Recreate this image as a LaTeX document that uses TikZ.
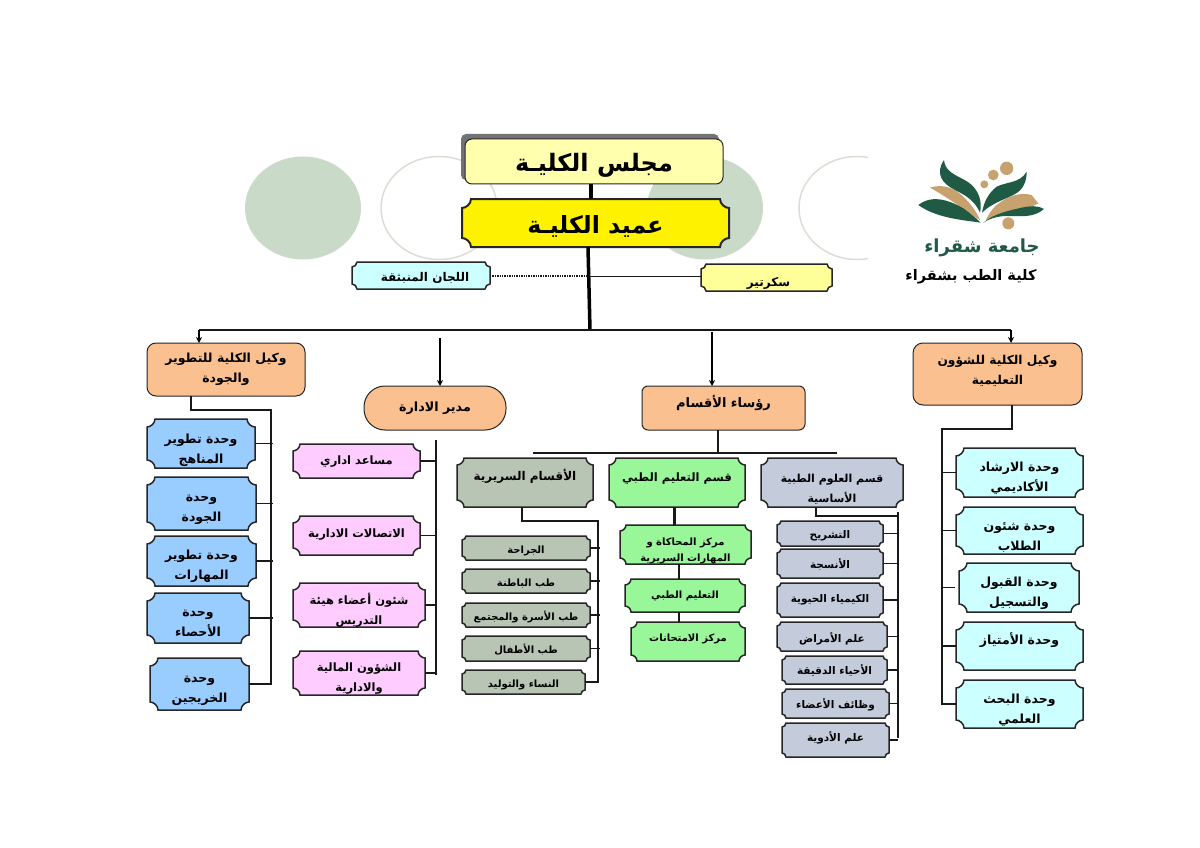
\documentclass[tikz,border=0pt]{standalone}
\usepackage{fontspec}
\setmainfont{Liberation Sans}
\newfontfamily\arf[Script=Arabic]{DejaVu Sans}
\TeXXeTstate=1
\usetikzlibrary{arrows.meta}
\definecolor{orangeb}{HTML}{FAC090}
\definecolor{blueb}{HTML}{99CCFF}
\definecolor{pinkb}{HTML}{FFCCFF}
\definecolor{grayb}{HTML}{B8C4B4}
\definecolor{greenb}{HTML}{99F799}
\definecolor{steelb}{HTML}{C4CCDC}
\definecolor{cyanb}{HTML}{CCFFFF}
\definecolor{paleY}{HTML}{FFFF99}
\definecolor{circG}{HTML}{CADAC8}
\definecolor{circL}{HTML}{D9DFD5}
\definecolor{logoG}{HTML}{1E5A44}
\definecolor{logoT}{HTML}{C8A26E}
\newdimen\plqL \newdimen\plqR \newdimen\plqT \newdimen\plqB \newdimen\plqr \newdimen\plqc
\makeatletter
\pgfdeclareshape{plaque}{
  \inheritsavedanchors[from=rectangle]
  \inheritanchorborder[from=rectangle]
  \inheritanchor[from=rectangle]{center}
  \inheritanchor[from=rectangle]{north}
  \inheritanchor[from=rectangle]{south}
  \inheritanchor[from=rectangle]{east}
  \inheritanchor[from=rectangle]{west}
  \inheritanchor[from=rectangle]{base}
  \inheritanchor[from=rectangle]{mid}
  \backgroundpath{
    \southwest \plqL=\pgf@x \plqB=\pgf@y
    \northeast \plqR=\pgf@x \plqT=\pgf@y
    \pgfmathsetlength\plqr{\pgfkeysvalueof{/tikz/plaque r}}
    \plqc=0.45\plqr
    \pgfpathmoveto{\pgfpoint{\dimexpr\plqL+\plqr\relax}{\plqT}}
    \pgfpathlineto{\pgfpoint{\dimexpr\plqR-\plqr\relax}{\plqT}}
    \pgfpathcurveto{\pgfpoint{\dimexpr\plqR-\plqr\relax}{\dimexpr\plqT-\plqr+\plqc\relax}}{\pgfpoint{\dimexpr\plqR-\plqc\relax}{\dimexpr\plqT-\plqr\relax}}{\pgfpoint{\plqR}{\dimexpr\plqT-\plqr\relax}}
    \pgfpathlineto{\pgfpoint{\plqR}{\dimexpr\plqB+\plqr\relax}}
    \pgfpathcurveto{\pgfpoint{\dimexpr\plqR-\plqc\relax}{\dimexpr\plqB+\plqr\relax}}{\pgfpoint{\dimexpr\plqR-\plqr\relax}{\dimexpr\plqB+\plqr-\plqc\relax}}{\pgfpoint{\dimexpr\plqR-\plqr\relax}{\plqB}}
    \pgfpathlineto{\pgfpoint{\dimexpr\plqL+\plqr\relax}{\plqB}}
    \pgfpathcurveto{\pgfpoint{\dimexpr\plqL+\plqr\relax}{\dimexpr\plqB+\plqr-\plqc\relax}}{\pgfpoint{\dimexpr\plqL+\plqc\relax}{\dimexpr\plqB+\plqr\relax}}{\pgfpoint{\plqL}{\dimexpr\plqB+\plqr\relax}}
    \pgfpathlineto{\pgfpoint{\plqL}{\dimexpr\plqT-\plqr\relax}}
    \pgfpathcurveto{\pgfpoint{\dimexpr\plqL+\plqc\relax}{\dimexpr\plqT-\plqr\relax}}{\pgfpoint{\dimexpr\plqL+\plqr\relax}{\dimexpr\plqT-\plqr+\plqc\relax}}{\pgfpoint{\dimexpr\plqL+\plqr\relax}{\plqT}}
    \pgfpathclose
  }
}
\makeatother
\newcommand\AR[1]{\beginR #1\endR}
\newcommand\TS[2]{\raisebox{-#1pt}[\height][\depth]{\begin{tabular}{@{}c@{}}#2\end{tabular}}}
\newcommand\bx[7][]{\node[#2,#1,minimum width={(#5-#3)*1pt},minimum height={(#6-#4)*1pt}] (#7) at ({(#3+#5)/2},{(#4+#6)/2})}
\tikzset{
  plaque r/.initial=6pt,
  boxbase/.style={draw=black!85,line width=1.5pt,inner sep=0pt,outer sep=0pt,text=black},
  tx/.style={font=\arf\bfseries\fontsize{#1}{20}\selectfont},
  pl/.style={boxbase,shape=plaque},
  rr/.style={boxbase,shape=rectangle,rounded corners=#1,line width=1pt},
  thin link/.style={line width=1pt,draw=black!90},
  mid link/.style={line width=1.8pt,draw=black!90},
  thick link/.style={line width=3.5pt,draw=black},
  arrowed/.style={-{Stealth[length=6pt,width=6pt]},line width=1.5pt},
  blueunit/.style={pl,fill=blueb,tx=12.5,plaque r=8pt},
  pinkunit/.style={pl,fill=pinkb,tx=11.5,plaque r=7pt},
  clinsub/.style={pl,fill=grayb,tx=10,plaque r=4pt},
  clinhead/.style={pl,fill=grayb,tx=12,plaque r=7pt},
  edhead/.style={pl,fill=greenb,tx=11.5,plaque r=7pt},
  edsub/.style={pl,fill=greenb,tx=10,plaque r=6pt},
  baschead/.style={pl,fill=steelb,tx=11,plaque r=7pt},
  bassub/.style={pl,fill=steelb,tx=10.5,plaque r=4pt},
  cyanunit/.style={pl,fill=cyanb,tx=12.5,plaque r=8pt},
  orangebox/.style={rr=#1,fill=orangeb,tx=12.5},
  disc/.style={fill=circG,draw=none},
  ring/.style={fill=white,draw=circL,line width=1.5pt},
}
\begin{document}
\begin{tikzpicture}[x=1pt,y=-1pt]
\fill[white] (0,0) rectangle (1200,848);
\useasboundingbox (0,0) rectangle (1200,848);
% circles
\fill[disc] (303,208) ellipse [x radius=58,y radius=51.5];
\draw[ring] (439,208) ellipse [x radius=58,y radius=51.5];
\fill[disc] (705,208) ellipse [x radius=58,y radius=51.5];
\draw[ring] (857,208) ellipse [x radius=58,y radius=51.5];
\fill[white] (868,150) rectangle (930,270);
% logo
\begin{scope}[shift={(880,140)},x=0.3333pt,y=-0.3333pt]
\fill[logoT] (150,143) .. controls (190,130) and (225,145) .. (250,170) .. controls (272,192) and (290,215) .. (300,240) .. controls (260,215) and (200,170) .. (150,143) -- cycle;
\fill[logoT] (455,165) .. controls (420,155) and (380,170) .. (350,195) .. controls (335,207) and (325,225) .. (318,240) .. controls (360,225) and (430,215) .. (475,190) -- cycle;
\fill[logoG] (192,60) .. controls (165,100) and (185,130) .. (225,150) .. controls (265,170) and (285,185) .. (300,218) .. controls (310,170) and (285,135) .. (250,118) .. controls (215,100) and (195,90) .. (192,60) -- cycle;
\fill[logoG] (440,95) .. controls (420,130) and (380,125) .. (350,140) .. controls (325,160) and (312,185) .. (306,218) .. controls (335,190) and (370,180) .. (400,165) .. controls (430,150) and (440,125) .. (440,95) -- cycle;
\fill[logoG] (115,195) .. controls (160,160) and (215,185) .. (250,205) .. controls (270,220) and (290,235) .. (302,248) .. controls (250,240) and (170,235) .. (115,195) -- cycle;
\fill[logoG] (492,207) .. controls (460,235) and (420,228) .. (380,228) .. controls (355,228) and (330,235) .. (310,248) .. controls (340,222) and (385,212) .. (425,203) .. controls (450,198) and (470,195) .. (492,207) -- cycle;
\fill[logoT] (380,85) circle [radius=20];
\fill[logoT] (340,105) circle [radius=16];
\fill[logoT] (313,133) circle [radius=12];
\fill[logoT] (385,250) circle [radius=18];
\end{scope}
\node[text=logoG,font=\arf\bfseries\fontsize{18}{20}\selectfont,inner sep=0pt] (logotext) at (982,248) {\AR{جامعة شقراء}};
\node[text=black,font=\arf\bfseries\fontsize{14.5}{20}\selectfont,inner sep=0pt] (caption) at (971,277) {\AR{كلية الطب بشقراء}};
% coordinates
\coordinate (busC) at (590,330);
\coordinate (busL) at (199,330);
\coordinate (busR) at (1011,330);
\coordinate (dropA) at (440,338);
\coordinate (dropH) at (712,332);
% top
\fill[black!55,rounded corners=5pt] (461,134) rectangle (719,180);
\bx{rr=7pt,fill=paleY!80!white,font=\arf\bfseries\fontsize{24}{28}\selectfont}{465}{139}{723}{184}{board} {\TS{4}{\AR{مجلس الكليـة}}};
\bx{pl,fill=yellow,plaque r=9pt,line width=2pt,font=\arf\bfseries\fontsize{23.7}{28}\selectfont}{462}{199}{729}{247}{dean} {\TS{5}{\AR{عميد الكليـة}}};
\bx{pl,fill=cyanb,tx=12,plaque r=5pt}{352}{262}{490}{289}{committees} {\hspace*{8pt}\TS{2}{\AR{اللجان المنبثقة}}};
\bx{pl,fill=paleY,tx=12,plaque r=5pt}{701}{264}{832}{291}{secretary} {\hspace*{4pt}\TS{5}{\AR{سكرتير}}};
\draw[thick link] (board.south -| 591,0) -- (dean.north -| 591,0);
\coordinate (stemX) at (588,276);
\draw[thin link,line width=1.4pt,densely dotted] (committees.east |- stemX) -- (stemX);
\draw[thin link] (stemX) -- (secretary.west |- stemX);
\draw[thick link] (dean.south -| stemX) -- (busC);
\draw[mid link,line width=2pt] (busL) -- (busR);
% second level
\bx{orangebox=9pt}{147}{343}{305}{396}{vpdev} {\TS{-1}{\AR{وكيل الكلية للتطوير}\\\AR{والجودة}}};
\bx{orangebox=21pt,tx=12.7}{364}{386}{506}{430}{admin} {\TS{-1}{\AR{مدير الادارة}}};
\bx{orangebox=6pt,tx=13}{642}{386}{805}{430}{heads} {\TS{-5}{\AR{رؤساء الأقسام}}};
\bx{orangebox=10pt,tx=12.2}{913}{343}{1082}{405}{vpedu} {\TS{-4}{\AR{وكيل الكلية للشؤون}\\\AR{التعليمية}}};
\draw[arrowed] (busL) -- (busL |- vpdev.north);
\draw[arrowed] (busR) -- (busR |- vpedu.north);
\draw[arrowed] (dropA) -- (dropA |- admin.north);
\draw[arrowed] (dropH) -- (dropH |- heads.north);
% left column
\bx{blueunit}{147}{419}{255}{468}{b1} {\TS{5.5}{\AR{وحدة تطوير}\\\AR{المناهج}}};
\bx{blueunit}{147}{477}{256}{530}{b2} {\TS{4}{\AR{وحدة}\\\AR{الجودة}}};
\bx{blueunit}{147}{536}{256}{586}{b3} {\TS{4}{\AR{وحدة تطوير}\\\AR{المهارات}}};
\bx{blueunit}{147}{593}{249}{643}{b4} {\TS{4}{\AR{وحدة}\\\AR{الأحصاء}}};
\bx{blueunit}{150}{658}{249}{710}{b5} {\TS{4.5}{\AR{وحدة}\\\AR{الخريجين}}};
\coordinate (spL) at (271,410);
\draw[mid link] (vpdev.south -| 191,0) |- (spL) -- (spL |- b5.east) -- (b5.east);
\foreach \n in {b1,b2,b3,b4} \draw[mid link] (\n.east) -- ([xshift=2pt]spL |- \n.east);
% admin column
\bx{pinkunit}{293}{444}{420}{478}{a1} {\TS{-1}{\AR{مساعد اداري}}};
\bx{pinkunit}{293}{516}{420}{555}{a2} {\TS{-2}{\AR{الاتصالات الادارية}}};
\bx{pinkunit}{293}{583}{425}{627}{a3} {\TS{5.5}{\AR{شئون أعضاء هيئة}\\\AR{التدريس}}};
\bx{pinkunit}{293}{651}{425}{695}{a4} {\TS{4.5}{\AR{الشؤون المالية}\\\AR{والادارية}}};
\coordinate (spA) at (436,440);
\coordinate (spAend) at (436,675);
\draw[mid link] (spA) -- (spAend);
\foreach \n in {a1,a2,a3,a4} \draw[mid link] (\n.east) -- (spA |- \n.east);
% heads row
\coordinate (rowL) at (533,453);
\coordinate (rowR) at (837,453);
\coordinate (rowS) at (718,453);
\draw[mid link] (rowL) -- (rowR);
\draw[mid link,line width=2.2pt] (heads.south -| rowS) -- (rowS);
\bx{clinhead}{457}{458}{593}{507}{clin} {\TS{-6}{\AR{الأقسام السريرية}}};
\bx{edhead}{609}{458}{745}{507}{meded} {\TS{-5}{\AR{قسم التعليم الطبي}}};
\bx{baschead}{761}{458}{903}{507}{basic} {\TS{6}{\AR{قسم العلوم الطبية}\\\AR{الأساسية}}};
% clinical
\bx{clinsub}{462}{536}{590}{560}{c1} {\TS{1}{\AR{الجراحة}}};
\bx{clinsub}{462}{569}{590}{593}{c2} {\TS{1}{\AR{طب الباطنة}}};
\bx{clinsub}{462}{603}{590}{627}{c3} {\TS{1}{\AR{طب الأسرة والمجتمع}}};
\bx{clinsub}{462}{636}{590}{661}{c4} {\TS{1}{\AR{طب الأطفال}}};
\bx{clinsub}{462}{670}{585}{694}{c5} {\TS{1}{\AR{النساء والتوليد}}};
\coordinate (spC) at (598,521);
\draw[mid link] (clin.south -| 522,0) |- (spC) -- (spC |- c5.east) -- (c5.east);
\foreach \n in {c1,c2,c3,c4} \draw[mid link] (\n.east) -- ([xshift=2pt]spC |- \n.east);
% medical education
\bx{edsub,font=\arf\bfseries\fontsize{10}{16}\selectfont}{620}{525}{751}{564}{m1} {\TS{5.5}{\AR{مركز المحاكاة و}\\\AR{المهارات السريرية}}};
\bx{edsub}{625}{579}{745}{612}{m2} {\AR{التعليم الطبي}};
\bx{edsub}{631}{622}{745}{661}{m3} {\TS{-4}{\AR{مركز الامتحانات}}};
\draw[mid link,line width=3pt] (meded.south -| 674,0) -- (m1.north -| 674,0);
\draw[mid link,line width=2pt] (m1.south -| 679,0) -- (m2.north -| 679,0);
\draw[mid link,line width=2pt] (m2.south -| 679,0) -- (m3.north -| 679,0);
% basic sciences
\bx{bassub}{777}{521}{883}{546}{s1} {\TS{1}{\AR{التشريح}}};
\bx{bassub}{777}{549}{883}{578}{s2} {\TS{1}{\AR{الأنسجة}}};
\bx{bassub}{777}{583}{883}{617}{s3} {\AR{الكيمياء الحيوية}};
\bx{bassub}{777}{622}{887}{651}{s4} {\TS{2}{\AR{علم الأمراض}}};
\bx{bassub}{782}{656}{887}{684}{s5} {\AR{الأحياء الدقيقة}};
\bx{bassub}{782}{689}{889}{718}{s6} {\TS{1}{\AR{وظائف الأعضاء}}};
\bx{bassub}{782}{723}{889}{757}{s7} {\TS{-3}{\AR{علم الأدوية}}};
\coordinate (spB) at (898,512);
\coordinate (spBend) at (898,738);
\draw[mid link,line width=2.8pt] (spB) -- (spBend);
\draw[mid link] (basic.south -| 816,0) |- (spB |- 0,516);
\foreach \n in {s1,s2,s3,s4,s5,s6,s7} \draw[mid link] (\n.east) -- (spB |- \n.east);
% right column
\bx{cyanunit}{956}{448}{1083}{497}{e1} {\TS{5}{\AR{وحدة الارشاد}\\\AR{الأكاديمي}}};
\bx{cyanunit}{956}{507}{1083}{554}{e2} {\TS{5.5}{\AR{وحدة شئون}\\\AR{الطلاب}}};
\bx{cyanunit}{959}{563}{1079}{612}{e3} {\TS{5}{\AR{وحدة القبول}\\\AR{والتسجيل}}};
\bx{cyanunit}{956}{622}{1083}{670}{e4} {\TS{-6}{\AR{وحدة الأمتياز}}};
\bx{cyanunit}{956}{680}{1083}{728}{e5} {\TS{5.5}{\AR{وحدة البحث}\\\AR{العلمي}}};
\coordinate (spE) at (942,429);
\draw[mid link] (vpedu.south -| 1012,0) |- (spE) -- (spE |- e5.west) -- (e5.west);
\foreach \n in {e1,e2,e4} \draw[mid link] (\n.west) -- (spE |- \n.west);
\draw[thin link,shorten <=4pt] (e3.west) -- (spE |- e3.west);
\end{tikzpicture}
\end{document}
